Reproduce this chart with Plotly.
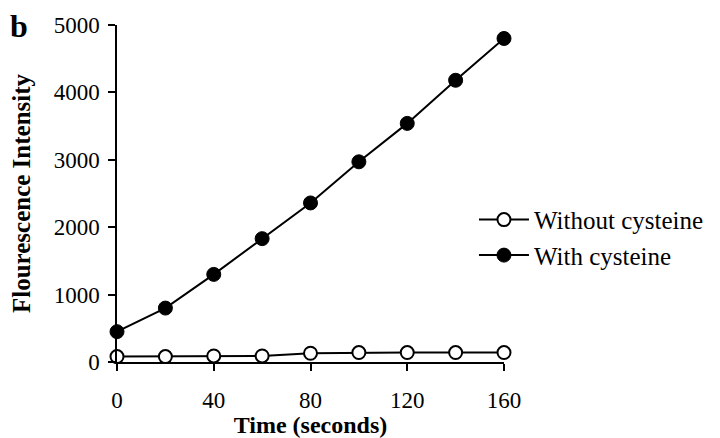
import plotly.graph_objects as go

# Fluorescence time course
time_s = [0, 20, 40, 60, 80, 100, 120, 140, 160]
without_cysteine = [80, 80, 90, 90, 130, 140, 140, 140, 140]
with_cysteine = [450, 800, 1300, 1830, 2360, 2970, 3540, 4180, 4800]

serif = "Liberation Serif, Times New Roman, serif"

fig = go.Figure()

fig.add_trace(go.Scatter(
    x=time_s, y=without_cysteine, name="Without cysteine",
    mode="lines+markers", cliponaxis=False,
    line=dict(color="black", width=2),
    marker=dict(symbol="circle", size=13, color="white", line=dict(color="black", width=2))
))
fig.add_trace(go.Scatter(
    x=time_s, y=with_cysteine, name="With cysteine",
    mode="lines+markers", cliponaxis=False,
    line=dict(color="black", width=2),
    marker=dict(symbol="circle", size=14, color="black", line=dict(color="black", width=1))
))

# page body has an 8px margin, so the figure is sized to fit the window
fig.update_layout(
    width=712, height=430,
    margin=dict(l=109, r=215, t=17, b=76),
    paper_bgcolor="white", plot_bgcolor="white",
    font=dict(family=serif, size=23, color="black"),
    showlegend=True,
    legend=dict(x=0.92, y=0.49, xanchor="left", yanchor="top",
                font=dict(family=serif, size=25, color="black"),
                bgcolor="rgba(0,0,0,0)", itemwidth=50, tracegroupgap=0),
    annotations=[dict(text="<b>b</b>", x=0, y=1, xref="paper", yref="paper",
                      xshift=-109, yshift=19, xanchor="left", yanchor="top",
                      showarrow=False, font=dict(family=serif, size=32, color="black"))]
)

fig.update_xaxes(
    range=[0, 160], tickvals=[0, 40, 80, 120, 160], automargin=False,
    showline=True, linecolor="black", linewidth=1.5,
    ticks="outside", ticklen=7, tickcolor="black", tickwidth=1.5,
    showgrid=False, zeroline=False, ticklabelstandoff=10,
    title=dict(text="<b>Time (seconds)</b>", font=dict(family=serif, size=24), standoff=4)
)
fig.update_yaxes(
    range=[0, 5000], tickvals=[0, 1000, 2000, 3000, 4000, 5000], automargin=False,
    showline=True, linecolor="black", linewidth=1.5,
    ticks="outside", ticklen=7, tickcolor="black", tickwidth=1.5,
    showgrid=False, zeroline=False, ticklabelstandoff=4,
    title=dict(text="<b>Flourescence Intensity</b>", font=dict(family=serif, size=25), standoff=22)
)

fig.write_html("out.html")
